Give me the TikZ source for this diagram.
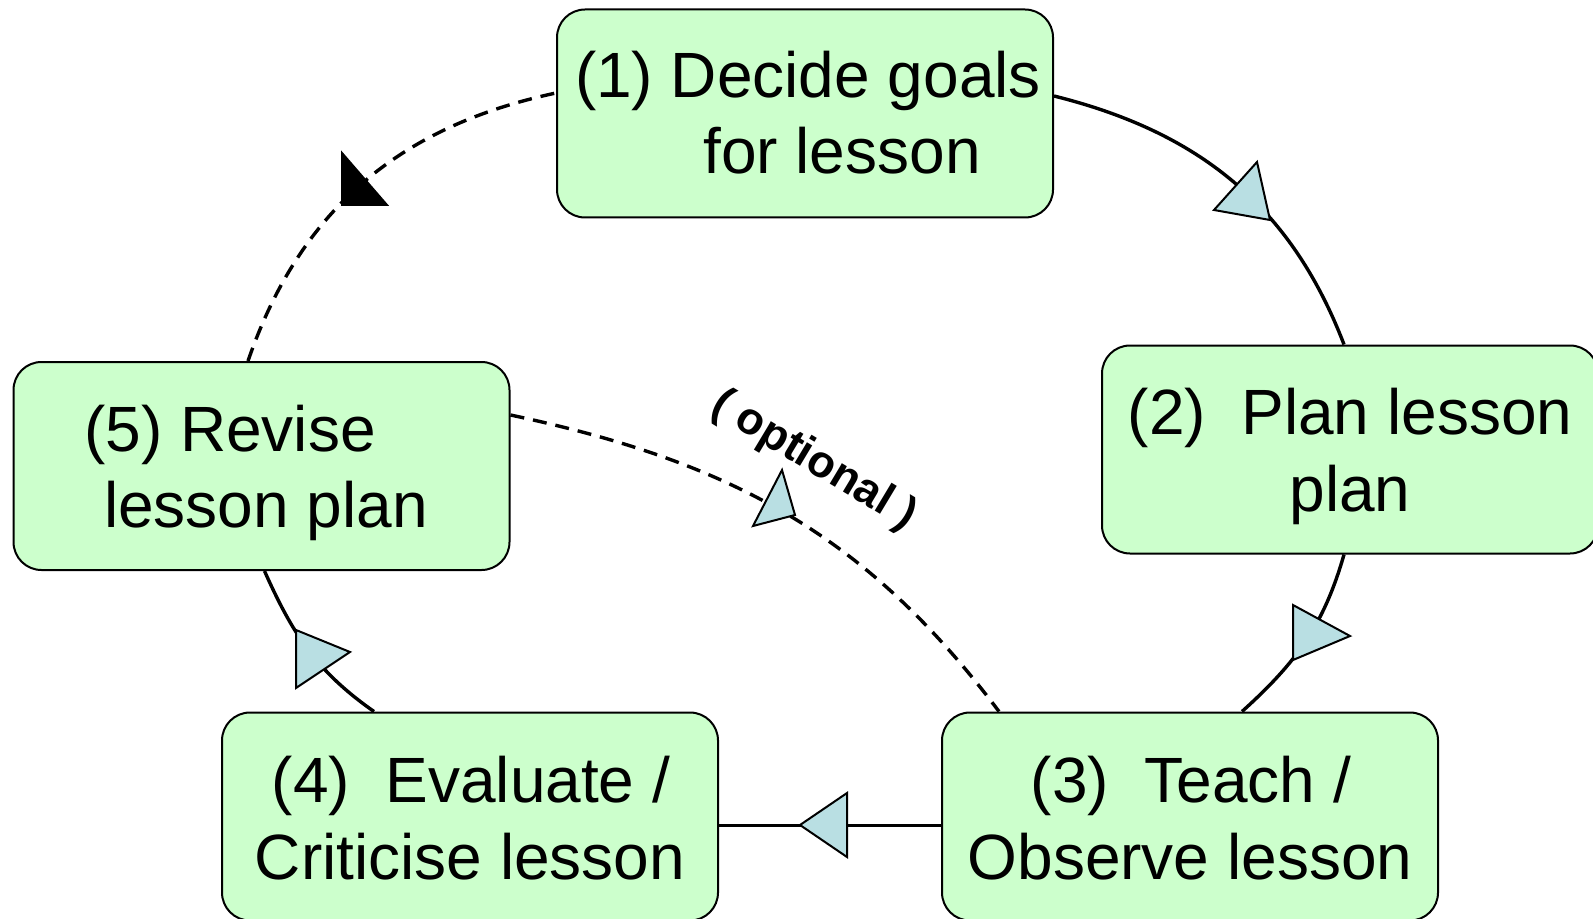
\documentclass[tikz,border=0pt]{standalone}
\usepackage{fontspec}
\setmainfont{Liberation Sans}
\usetikzlibrary{calc}
\definecolor{boxgreen}{RGB}{204,255,204}
\definecolor{tipblue}{RGB}{185,223,227}
\begin{document}
\begin{tikzpicture}[x=0.5pt,y=0.5pt,
  stepbox/.style={draw=black, line width=1pt, fill=boxgreen, rounded corners=14pt,
    minimum width=248pt, minimum height=104pt, inner sep=0pt},
  lbl/.style={anchor=base, inner sep=0pt, font=\fontsize{32}{38}\selectfont},
  flow/.style={line width=1.7pt},
  dashflow/.style={line width=1.7pt, dash pattern=on 7pt off 4.5pt},
  tip/.style={draw=black, line width=1pt, fill=tipblue, line join=miter}
]
\useasboundingbox (0,0) rectangle (1593,-919);

% boxes
\node[stepbox] (b1) at (805,-113.5) {};
\node[stepbox] (b2) at (1350,-449.5) {};
\node[stepbox] (b3) at (1190,-816.5) {};
\node[stepbox] (b4) at (470,-816.5) {};
\node[stepbox] (b5) at (261.5,-466) {};

% texts
\node[lbl] (t1a) at (808,-98) {(1) Decide goals};
\node[lbl] (t1b) at (842,-174) {for lesson};
\node[lbl] (t2a) at (1350,-434) {(2)\ \ Plan lesson};
\node[lbl] (t2b) at (1350,-511) {plan};
\node[lbl] (t3a) at (1191,-802) {(3)\ \ Teach /};
\node[lbl] (t3b) at (1190,-879) {Observe lesson};
\node[lbl] (t4a) at (471,-802) {(4)\ \ Evaluate /};
\node[lbl] (t4b) at (470,-879) {Criticise lesson};
\node[lbl] (t5a) at (230,-451) {(5) Revise};
\node[lbl] (t5b) at (266,-527) {lesson plan};

% connectors
\draw[flow] ($(b1.east)+(0,17.5)$) to[out=-14,in=111] ($(b2.north)+(-6,0)$);
\draw[flow] ($(b2.south)+(-6,0)$) to[out=-106,in=42] ($(b3.north)+(52,0)$);
\draw[flow] ($(b3.west)+(0,-9)$) -- ($(b4.east)+(0,-9)$);
\draw[flow] ($(b4.north)+(-96,0)$) to[out=145,in=-66] ($(b5.south)+(3,0)$);
\draw[dashflow] ($(b5.north)+(-13.5,0)$) to[out=71,in=-168] ($(b1.west)+(0,20.5)$);
\draw[dashflow] ($(b5.east)+(0,51)$) to[out=-12,in=127] ($(b3.north)+(-191,0)$);

% arrowheads
\filldraw[tip] (1257,-162) -- (1214,-210) -- (1270,-220) -- cycle;
\filldraw[tip] (1293,-605) -- (1293,-660) -- (1350,-636) -- cycle;
\filldraw[tip] (800,-825) -- (847,-793) -- (847,-857) -- cycle;
\filldraw[tip] (296,-630) -- (296,-688) -- (350,-652) -- cycle;
\filldraw[tip,fill=black] (342,-153) -- (342,-205) -- (387,-205) -- cycle;
\filldraw[tip] (782,-470) -- (753,-526) -- (795,-515) -- cycle;

% label
\node[font=\fontsize{22.5}{26}\selectfont\bfseries, rotate=-31, inner sep=0pt] (opt) at (814,-461) {( optional )};
\end{tikzpicture}
\end{document}
